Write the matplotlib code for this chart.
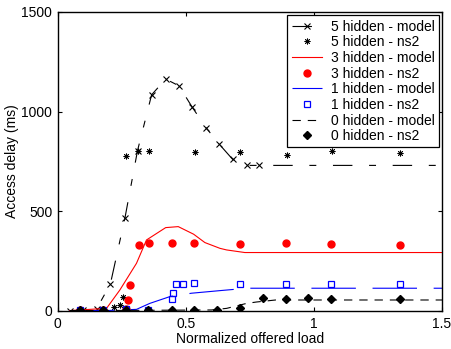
import matplotlib
matplotlib.use("Agg")
import matplotlib.pyplot as plt

plt.rcParams['font.family'] = ['Liberation Sans', 'DejaVu Sans']
plt.rcParams['lines.scale_dashes'] = False

# 5 hidden - model
x5m = [0.047, 0.099, 0.151, 0.205, 0.262, 0.311, 0.366, 0.421, 0.473, 0.523, 0.578, 0.629, 0.682, 0.737, 0.785, 1.5]
y5m = [2, 3, 10, 135, 467, 804, 1084, 1163, 1129, 1025, 920, 838, 761, 730, 730, 730]
# 5 hidden - ns2
x5n = [0.088, 0.176, 0.221, 0.244, 0.255, 0.266, 0.311, 0.355, 0.535, 0.713, 0.893, 1.069, 1.336]
y5n = [5, 5, 22, 30, 72, 778, 804, 803, 799, 795, 783, 803, 791]
# 3 hidden - model
x3m = [0.047, 0.19, 0.242, 0.307, 0.346, 0.421, 0.47, 0.53, 0.574, 0.633, 0.659, 0.73, 1.5]
y3m = [2, 13, 105, 239, 356, 418, 423, 385, 343, 314, 306, 293, 293]
# 3 hidden - ns2
x3n = [0.088, 0.176, 0.266, 0.272, 0.281, 0.318, 0.355, 0.444, 0.532, 0.713, 0.891, 1.066, 1.336]
y3n = [5, 5, 10, 55, 130, 331, 340, 340, 340, 336, 340, 336, 333]
# 1 hidden - model
x1m = [0.047, 0.19, 0.307, 0.359, 0.4375, 0.522, 0.633, 0.704, 0.74, 1.5]
y1m = [2, 2, 8, 38, 72, 89, 102, 110, 114, 114]
# 1 hidden - ns2
x1n = [0.088, 0.176, 0.266, 0.353, 0.444, 0.45, 0.461, 0.487, 0.531, 0.711, 0.891, 1.066, 1.336]
y1n = [5, 5, 12, 5, 59, 89, 134, 134, 139, 134, 134, 134, 134]
# 0 hidden - model
x0m = [0.047, 0.3, 0.6, 0.659, 0.737, 0.776, 0.85, 0.893, 1.5]
y0m = [2, 3, 5, 13, 38, 45, 55, 55, 55]
# 0 hidden - ns2
x0n = [0.088, 0.176, 0.266, 0.353, 0.444, 0.531, 0.622, 0.711, 0.802, 0.891, 0.978, 1.066, 1.336]
y0n = [5, 5, 5, 5, 5, 5, 5, 13, 64, 59, 64, 59, 59]

xticks = [0, 0.5, 1, 1.5]
yticks = [0, 500, 1000, 1500]

fig = plt.figure(figsize=(4.52, 3.49), dpi=100)
ax = fig.add_axes([0.128, 0.109, 0.85, 0.857])

lw = 0.8
ax.plot(x5m, y5m, color='black', lw=lw, linestyle=(0, (14, 12, 5, 12)),
        marker='x', ms=4.5, mew=0.8, markevery=list(range(len(x5m) - 1)),
        label='5 hidden - model')
ax.plot(x5n, y5n, linestyle='none', marker=(8, 2, 0), ms=4.2, mew=0.6,
        color='black', label='5 hidden - ns2')
ax.plot(x3m, y3m, color='red', lw=lw, label='3 hidden - model')
ax.plot(x3n, y3n, linestyle='none', marker='o', ms=5, color='red',
        mec='red', label='3 hidden - ns2')
ax.plot(x1m, y1m, color='blue', lw=lw, linestyle=(0, (32, 12)),
        label='1 hidden - model')
ax.plot(x1n, y1n, linestyle='none', marker='s', ms=5, mfc='none', mec='blue',
        mew=0.9, label='1 hidden - ns2')
ax.plot(x0m, y0m, color='black', lw=lw, linestyle=(0, (6, 5)),
        label='0 hidden - model')
ax.plot(x0n, y0n, linestyle='none', marker='D', ms=4.2, color='black',
        label='0 hidden - ns2')

ax.set_xlim(0, 1.5)
ax.set_ylim(0, 1500)
ax.set_xticks(xticks)
ax.set_xticklabels(['0', '0.5', '1', '1.5'])
ax.set_yticks(yticks)
ax.tick_params(direction='in', top=True, right=True, length=3, width=0.8,
               labelsize=10, pad=4)
for s in ax.spines.values():
    s.set_linewidth(1.0)

ax.set_xlabel('Normalized offered load', fontsize=10, labelpad=1)
ax.set_ylabel('Access delay (ms)', fontsize=10, labelpad=2)

leg = ax.legend(loc='upper right', fontsize=10, frameon=True, fancybox=False,
                edgecolor='black', framealpha=1, borderaxespad=0.25,
                handlelength=2.2, handletextpad=0.6, labelspacing=0.12,
                borderpad=0.3, numpoints=1)
leg.get_frame().set_linewidth(0.9)

fig.savefig('out.png', dpi=100)
